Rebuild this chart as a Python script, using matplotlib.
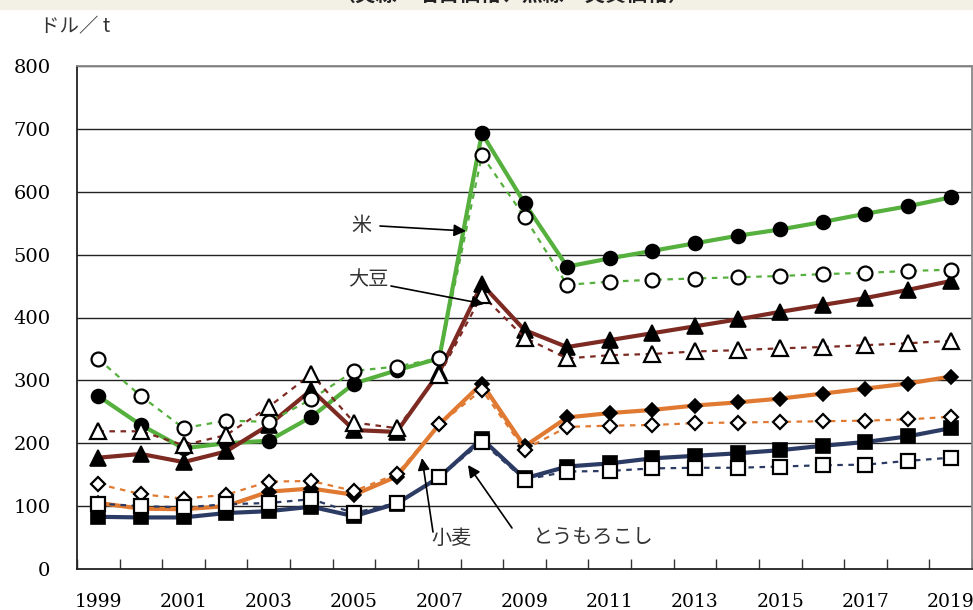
import matplotlib
matplotlib.use("Agg")
import matplotlib.pyplot as plt
import numpy as np

years = list(range(1999, 2020))
year_labels = [str(y) if (y - 1999) % 2 == 0 else "" for y in years]

rice_nominal = [275, 229, 192, 200, 204, 242, 295, 316, 335, 693, 582, 481, 494, 506, 518, 530, 540, 552, 565, 577, 591]
rice_real = [334, 275, 224, 236, 234, 270, 315, 322, 335, 658, 560, 452, 457, 460, 462, 464, 466, 469, 471, 474, 476]
soy_nominal = [177, 183, 170, 187, 229, 285, 221, 218, 313, 453, 380, 353, 364, 375, 386, 397, 409, 420, 431, 444, 458]
soy_real = [219, 219, 197, 213, 258, 310, 233, 224, 308, 436, 368, 335, 340, 342, 346, 348, 351, 353, 356, 359, 363]
wheat_nominal = [105, 96, 95, 100, 123, 128, 118, 147, 230, 295, 195, 241, 248, 253, 260, 265, 271, 279, 287, 295, 306]
wheat_real = [135, 119, 112, 118, 139, 140, 124, 151, 230, 285, 190, 226, 228, 229, 232, 233, 234, 235, 236, 238, 242]
corn_nominal = [83, 82, 82, 89, 92, 99, 84, 104, 146, 207, 144, 163, 168, 176, 180, 184, 189, 196, 202, 211, 224]
corn_real = [104, 100, 98, 103, 105, 111, 89, 105, 146, 202, 142, 155, 156, 160, 161, 161, 163, 165, 166, 172, 177]

y_ticks = [0, 100, 200, 300, 400, 500, 600, 700, 800]

green = "#56b03e"
darkred = "#7d2a22"
orange = "#e07a32"
navy = "#2b3b63"

W, H = 973, 610
fig = plt.figure(figsize=(W / 100, H / 100), dpi=100)
jp = ["Noto Sans CJK JP", "DejaVu Sans"]

# top strip with title that is cropped in the reference
fig.patches.append(plt.Rectangle((0, 1 - 9 / H), 1, 9 / H, transform=fig.transFigure,
                                 color="#f3f1e6", zorder=0))
fig.text(512 / W, 1 - 5 / H, "（実線：名目価格、点線：実質価格）", family=jp, fontsize=15,
         fontweight="bold", ha="center", va="bottom", color="#222222")

ax = fig.add_axes([77 / W, (H - 569) / H, (972 - 77) / W, (569 - 66) / H])
x = np.arange(len(years))

nominal = [(rice_nominal, green, "o", 10), (soy_nominal, darkred, "^", 11),
           (wheat_nominal, orange, "D", 7.5), (corn_nominal, navy, "s", 10)]
real = [(rice_real, green, "o", 10), (soy_real, darkred, "^", 11),
        (wheat_real, orange, "D", 7.5), (corn_real, navy, "s", 10)]

for vals, c, m, ms in nominal:
    ax.plot(x, vals, color=c, lw=3, marker=m, ms=ms, mfc="black", mec="black",
            mew=1.2, zorder=3)
for vals, c, m, ms in real:
    ax.plot(x, vals, color=c, lw=1.6, ls=(0, (2.5, 2.5)), marker=m, ms=ms,
            mfc="white", mec="black", mew=1.6, zorder=4)

ax.set_xlim(-0.5, len(years) - 0.5)
ax.set_ylim(0, 800)
ax.set_yticks(y_ticks)
ax.set_yticklabels([str(v) for v in y_ticks], family="DejaVu Serif", fontsize=14)
ax.tick_params(axis="y", length=0, pad=19)
ax.set_xticks(x)
ax.set_xticklabels(year_labels, family="DejaVu Serif", fontsize=13.5)
ax.tick_params(axis="x", which="major", length=0, pad=17)
ax.set_xticks(np.arange(len(years) + 1) - 0.5, minor=True)
ax.tick_params(axis="x", which="minor", direction="in", length=7, width=1, color="#333333")
for v in y_ticks[1:]:
    ax.axhline(v, color="#222222", lw=1, zorder=1)
for s in ["left", "bottom"]:
    ax.spines[s].set_color("#222222")
    ax.spines[s].set_linewidth(1.3)
for s in ["right", "top"]:
    ax.spines[s].set_color("#888888")
    ax.spines[s].set_linewidth(1.3)

fig.text(40 / W, 1 - 27 / H, "ドル／ t", family=jp, fontsize=14, va="center",
         ha="left", color="#333333")

def px(xp, yp):
    return (xp / W, 1 - yp / H)

arrow = dict(arrowstyle="-|>", color="black", lw=1.2, mutation_scale=18, shrinkA=0, shrinkB=0)
annos = [("米", (361, 225), (380, 226), (466, 231)),
         ("大豆", (368, 280), (391, 286), (484, 304)),
         ("小麦", (451, 538), (433, 532), (422, 458)),
         ("とうもろこし", (593, 538), (512, 528), (468, 465))]
for txt, tpos, start, tip in annos:
    fig.text(*px(*tpos), txt, family=jp, fontsize=14.5, ha="center", va="center",
             color="#333333")
    ax.annotate("", xy=px(*tip), xycoords="figure fraction", xytext=px(*start),
                textcoords="figure fraction", arrowprops=arrow, zorder=6)

fig.savefig("out.png", dpi=100)
